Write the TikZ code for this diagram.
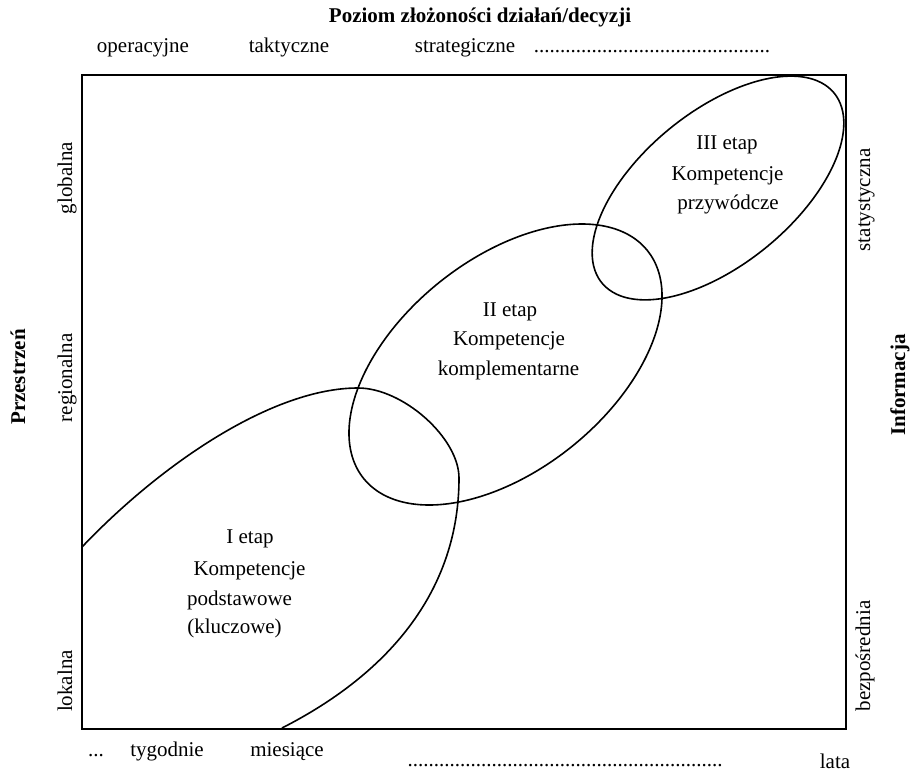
\documentclass[tikz,border=0pt]{standalone}
\usepackage{fontspec}
\setmainfont{Liberation Serif}
\begin{document}
\begin{tikzpicture}[x=1bp,y=-1bp,
  lbl/.style={font=\fontsize{21bp}{26bp}\selectfont, inner sep=0pt},
  ttl/.style={font=\fontsize{21bp}{26bp}\selectfont\bfseries, inner sep=0pt},
  frm/.style={line width=2.2bp},
  oval/.style={line width=1.6bp}]
\useasboundingbox (0,0) rectangle (912,772);
% frame
\draw[frm] (82,75) rectangle (846,729);
% title and top axis
\node[ttl] (title) at (480,17) {Poziom złożoności działań/decyzji};
\node[lbl,anchor=base] (oper) at (143,53) {operacyjne};
\node[lbl,anchor=base] (takt) at (289,53) {taktyczne};
\node[lbl,anchor=base] (strat) at (465,53) {strategiczne};
\node[lbl,anchor=base] (tdots) at (652,53) {.............................................};
% bottom axis
\node[lbl,anchor=base] (bdots0) at (96,756) {...};
\node[lbl,anchor=base] (tyg) at (167,756) {tygodnie};
\node[lbl,anchor=base] (mies) at (287,756) {miesiące};
\node[lbl,anchor=base] (bdots) at (565,766) {............................................................};
\node[lbl,anchor=base] (lata) at (835,768) {lata};
% left axis
\node[ttl,rotate=90] (przes) at (18,377) {Przestrzeń};
\node[lbl,rotate=90,anchor=base] (glob) at (72,178) {globalna};
\node[lbl,rotate=90,anchor=base] (reg) at (72,378) {regionalna};
\node[lbl,rotate=90,anchor=base] (lok) at (72,681) {lokalna};
% right axis
\node[lbl,rotate=90,anchor=base] (stat) at (870,200) {statystyczna};
\node[ttl,rotate=90] (info) at (900,385) {Informacja};
\node[lbl,rotate=90,anchor=base] (bezp) at (870,656) {bezpośrednia};
% ellipse I (cut by the frame)
\draw[oval] (82,547) .. controls (162,463) and (273,388) .. (358,388)
  .. controls (403,388) and (459,438) .. (459,478)
  .. controls (459,588) and (392,672) .. (282,728);
% ellipse II
\draw[oval] plot[domain=0:360,samples=120,smooth]
  ({505.5+182*cos(\x)*cos(38.75)-105.5*sin(\x)*sin(38.75)},
   {364.5-182*cos(\x)*sin(38.75)-105.5*sin(\x)*cos(38.75)}) -- cycle;
% ellipse III
\draw[oval] plot[domain=0:360,samples=120,smooth]
  ({718+150*cos(\x)*cos(39.25)-76.5*sin(\x)*sin(39.25)},
   {188-150*cos(\x)*sin(39.25)-76.5*sin(\x)*cos(39.25)}) -- cycle;
% texts in ellipses
\node[lbl] (e1a) at (250,539) {I etap};
\node[lbl] (e1b) at (249.5,571) {Kompetencje};
\node[lbl] (e1c) at (239.5,600) {podstawowe};
\node[lbl] (e1d) at (234.5,628) {(kluczowe)};
\node[lbl] (e2a) at (510,312) {II etap};
\node[lbl] (e2b) at (509,341) {Kompetencje};
\node[lbl] (e2c) at (508.5,370) {komplementarne};
\node[lbl] (e3a) at (727,145) {III etap};
\node[lbl] (e3b) at (727.5,176) {Kompetencje};
\node[lbl] (e3c) at (728,204) {przywódcze};
\end{tikzpicture}
\end{document}
